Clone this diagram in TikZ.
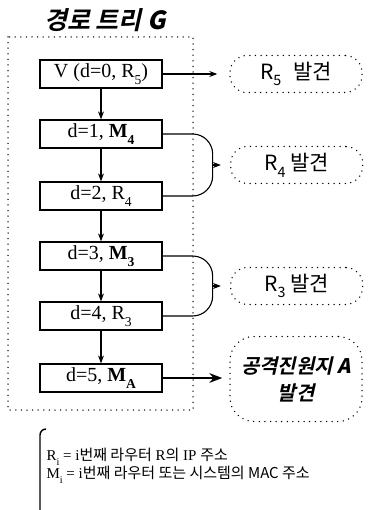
\documentclass[tikz,border=0pt]{standalone}
\usepackage{fontspec}
\setmainfont{Liberation Serif}
\newfontfamily\kr{Noto Sans CJK KR}
\newfontfamily\krbi[FakeSlant=0.22]{Noto Sans CJK KR Bold}
\usetikzlibrary{arrows.meta,calc}
\newcommand\lowsub[1]{\raisebox{-0.32em}{\scalebox{0.68}{#1}}}

\begin{document}
\begin{tikzpicture}[x=1pt, y=-1pt, >=Stealth, line width=1.1pt,
  font=\fontsize{20}{24}\selectfont,
  box/.style={draw, line width=1.3pt, minimum width=122pt, minimum height=28pt, inner sep=0pt},
  dots/.style={line width=1.5pt, dash pattern=on 0pt off 5.6pt, line cap=round},
  found/.style={draw, dots, rounded corners=17pt, minimum width=132pt, minimum height=37pt,
    inner sep=0pt, font=\kr\fontsize{21}{25}\selectfont}]
  \useasboundingbox (0,0) rectangle (367,510);
  % title and frame of the tree
  \node[font=\krbi\fontsize{25}{29}\selectfont] (title) at (105,20) {경로 트리 \textbf{\textit{G}}};
  \draw[dots] (8,37) rectangle (193,410);
  % nodes of the path tree
  \node[box] (v)  at (101,74)  {V (d=0, R\lowsub{5})};
  \node[box] (d1) at (101,134) {d=1, \textbf{M\lowsub{4}}};
  \node[box] (d2) at (101,196) {d=2, R\lowsub{4}};
  \node[box] (d3) at (101,256) {d=3, \textbf{M\lowsub{3}}};
  \node[box] (d4) at (101,316) {d=4, R\lowsub{3}};
  \node[box] (d5) at (101,378) {d=5, \textbf{M\lowsub{A}}};
  \foreach \a/\b in {v/d1, d1/d2, d2/d3, d3/d4, d4/d5}
    \draw[->] (\a) -- (\b);
  % merge points
  \coordinate (m4) at ($(d1.east)!.5!(d2.east)+(50,0)$);
  \coordinate (m3) at ($(d3.east)!.5!(d4.east)+(50,0)$);
  % discovered routers
  \node[found] (r5) at (296,74) {R\lowsub{5}\hspace{12pt}발견};
  \node[found] (r4) at ($(m4)+(84,0)$) {R\lowsub{4} 발견};
  \node[found] (r3) at ($(m3)+(84,0)$) {R\lowsub{3} 발견};
  \node[found, minimum height=85pt, rounded corners=24pt, align=center,
    font=\krbi\fontsize{20}{27}\selectfont] (ra) at (296,379)
    {공격진원지 \textbf{\textit{A}}\\발견};
  \draw[->, shorten >=12pt] (v) -- (r5);
  \draw[rounded corners=20pt] (d1.east) -- ++(50,0) |- (d2.east);
  \draw[rounded corners=20pt] (d3.east) -- ++(50,0) |- (d4.east);
  \draw[->, shorten >=9pt] (m4) -- (r4);
  \draw[->, shorten >=9pt] (m3) -- (r3);
  \draw[->, line width=2.2pt, shorten >=7pt] (d5.east) -- (d5.east -| ra.west);
  % legend
  \node[anchor=west, align=left, inner sep=0pt, font=\fontsize{15}{13}\selectfont] (key) at (46,466)
    {R\lowsub{i} = i{\kr 번째 라우터} R{\kr 의} IP {\kr 주소}\\
     M\lowsub{i} = i{\kr 번째 라우터 또는 시스템의 MAC 주소}};
  \draw[line width=1.4pt] (46,429) to[out=180, in=90] (40,435) -- (40,510);
\end{tikzpicture}
\end{document}
